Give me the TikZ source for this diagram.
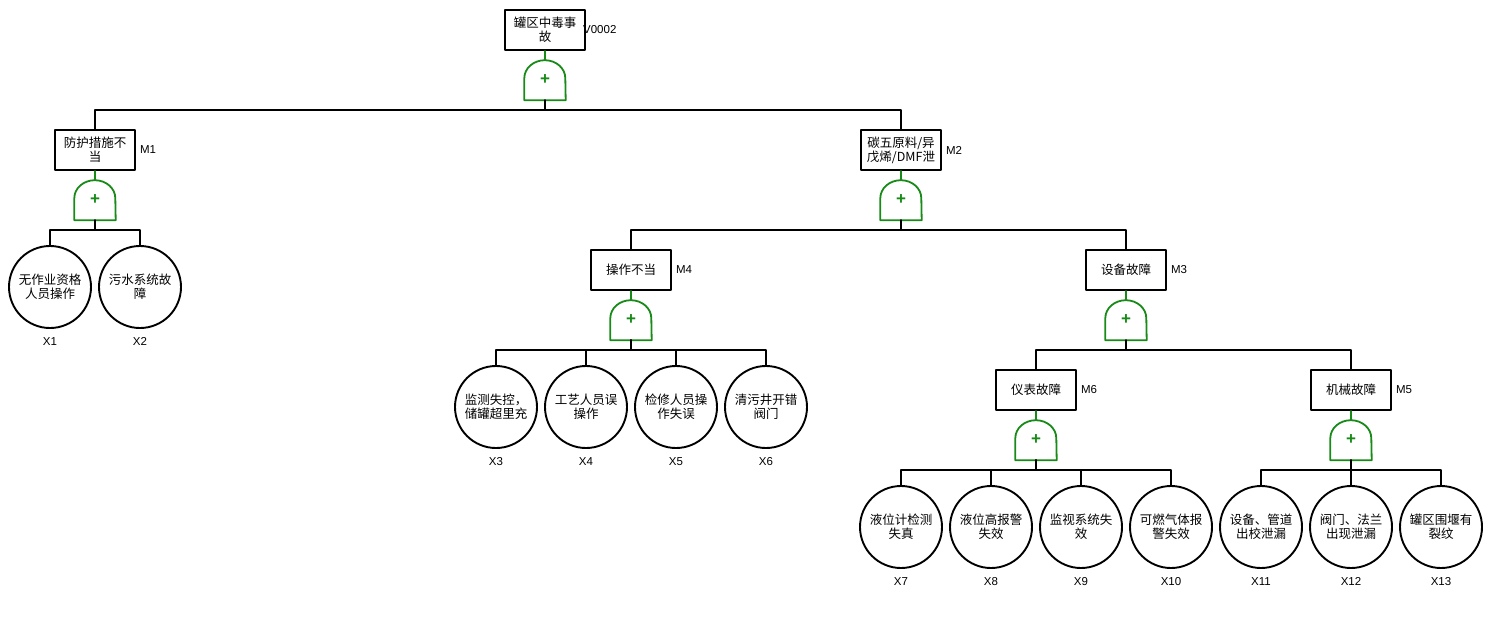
\documentclass[tikz,border=0pt]{standalone}
\usepackage{fontspec}
\setmainfont{Liberation Sans}
\newfontfamily\cjk{Noto Sans CJK SC}
\definecolor{gategreen}{RGB}{24,138,24}
\begin{document}
\begin{tikzpicture}[x=1pt, y=-1pt, line join=round, line cap=round,
    font=\cjk\fontsize{12.5}{14}\selectfont,
    event/.style={draw, line width=1.9pt, minimum width=80pt, minimum height=40pt, inner sep=1pt, align=center},
    basic/.style={draw, circle, line width=1.9pt, minimum size=82pt, inner sep=0pt, align=center},
    gate/.style={minimum width=41pt, minimum height=40pt, inner sep=0pt, text=gategreen, font=\bfseries\fontsize{17}{17}\selectfont},
    gateline/.style={draw=gategreen, line width=1.8pt},
    tag/.style={font=\fontsize{11.5}{13}\selectfont, inner sep=0pt},
    link/.style={line width=1.8pt},
    glink/.style={draw=gategreen, line width=1.8pt}]
    \useasboundingbox (0,0) rectangle (1491,630);
    \def\orgate#1(#2){\node[gate] (#1) at (#2) {+};
        \draw[gateline] (#1.south west) -- ++(0,-22) arc[start angle=180, end angle=0, x radius=20.5pt, y radius=18pt] -- (#1.south east) -- cycle;}
    % events
    \node[event, label={[tag, label distance=-3pt]right:V0002}] (top) at (545,30) {罐区中毒事\\故};
    \node[event, label={[tag, label distance=4pt]right:M1}] (m1) at (95,150) {防护措施不\\当};
    \node[event, label={[tag, label distance=4pt]right:M2}] (m2) at (901,150) {碳五原料/异\\戊烯/DMF泄};
    \node[event, label={[tag, label distance=4pt]right:M4}] (m4) at (631,270) {操作不当};
    \node[event, label={[tag, label distance=4pt]right:M3}] (m3) at (1126,270) {设备故障};
    \node[event, label={[tag, label distance=4pt]right:M6}] (m6) at (1036,390) {仪表故障};
    \node[event, label={[tag, label distance=4pt]right:M5}] (m5) at (1351,390) {机械故障};
    % gates
    \orgate g0(545,80)
    \orgate g1(95,200)
    \orgate g2(901,200)
    \orgate g4(631,320)
    \orgate g3(1126,320)
    \orgate g6(1036,440)
    \orgate g5(1351,440)
    % basic events
    \node[basic, label={[tag, label distance=8pt]below:X1}] (x1) at (50,287) {无作业资格\\人员操作};
    \node[basic, label={[tag, label distance=8pt]below:X2}] (x2) at (140,287) {污水系统故\\障};
    \node[basic, label={[tag, label distance=8pt]below:X3}] (x3) at (496,407) {监测失控，\\储罐超里充};
    \node[basic, label={[tag, label distance=8pt]below:X4}] (x4) at (586,407) {工艺人员误\\操作};
    \node[basic, label={[tag, label distance=8pt]below:X5}] (x5) at (676,407) {检修人员操\\作失误};
    \node[basic, label={[tag, label distance=8pt]below:X6}] (x6) at (766,407) {清污井开错\\阀门};
    \node[basic, label={[tag, label distance=8pt]below:X7}] (x7) at (901,527) {液位计检测\\失真};
    \node[basic, label={[tag, label distance=8pt]below:X8}] (x8) at (991,527) {液位高报警\\失效};
    \node[basic, label={[tag, label distance=8pt]below:X9}] (x9) at (1081,527) {监视系统失\\效};
    \node[basic, label={[tag, label distance=8pt]below:X10}] (x10) at (1171,527) {可燃气体报\\警失效};
    \node[basic, label={[tag, label distance=8pt]below:X11}] (x11) at (1261,527) {设备、管道\\出校泄漏};
    \node[basic, label={[tag, label distance=8pt]below:X12}] (x12) at (1351,527) {阀门、法兰\\出现泄漏};
    \node[basic, label={[tag, label distance=8pt]below:X13}] (x13) at (1441,527) {罐区围堰有\\裂纹};
    % connectors
    \foreach \e/\g in {top/g0, m1/g1, m2/g2, m4/g4, m3/g3, m6/g6, m5/g5}
        \draw[glink] (\e.south) -- (\g.north);
    \foreach \g/\c in {g0/m1, g0/m2, g1/x1, g1/x2, g2/m4, g2/m3, g4/x3, g4/x4, g4/x5, g4/x6, g3/m6, g3/m5, g6/x7, g6/x8, g6/x9, g6/x10, g5/x11, g5/x12, g5/x13}
        \draw[link] (\g.south) -- ++(0,10) -| (\c.north);
\end{tikzpicture}
\end{document}
